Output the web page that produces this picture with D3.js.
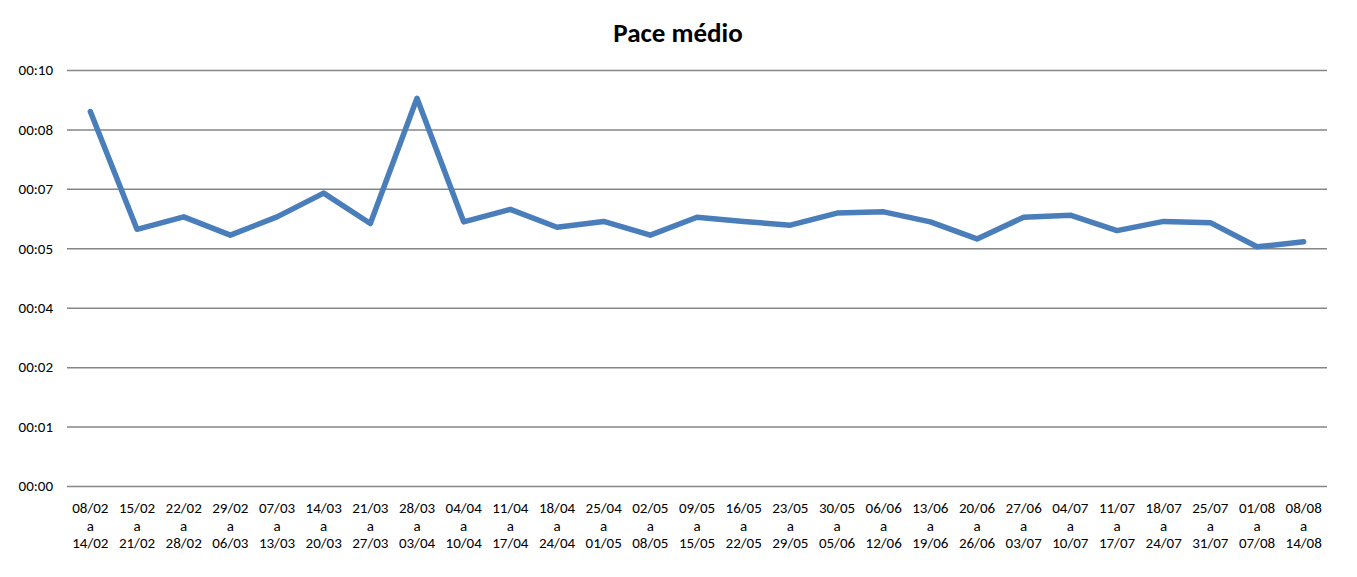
<!DOCTYPE html>
<html><head><meta charset="utf-8">
<script src="https://cdn.jsdelivr.net/npm/d3@7"></script>
<style>body{margin:0;background:#fff}svg{display:block}</style>
</head><body>
<svg id="c" width="1357" height="577"></svg>
<script>
const startDates = ["08/02","15/02","22/02","29/02","07/03","14/03","21/03","28/03","04/04","11/04","18/04","25/04","02/05","09/05","16/05","23/05","30/05","06/06","13/06","20/06","27/06","04/07","11/07","18/07","25/07","01/08","08/08"];
const endDates = ["14/02","21/02","28/02","06/03","13/03","20/03","27/03","03/04","10/04","17/04","24/04","01/05","08/05","15/05","22/05","29/05","05/06","12/06","19/06","26/06","03/07","10/07","17/07","24/07","31/07","07/08","14/08"];
const paceMinutes = [9.00,6.17,6.47,6.03,6.47,7.04,6.31,9.32,6.35,6.65,6.22,6.36,6.03,6.46,6.36,6.27,6.56,6.59,6.35,5.94,6.46,6.51,6.14,6.36,6.33,5.75,5.87];
const tickLabels = ["00:00","00:01","00:02","00:04","00:05","00:07","00:08","00:10"];
const yMax = 10;

const svg = d3.select("#c");
const font = "Carlito, 'Open Sans', 'Liberation Sans', sans-serif";
const L = 67, R = 1327, T = 70, B = 486;

const x = d3.scaleBand().domain(startDates).range([L, R]);
const y = d3.scaleLinear().domain([0, yMax]).range([B, T]);
const tickVals = tickLabels.map((_, i) => i * yMax / (tickLabels.length - 1));

svg.append("text").attr("x", 678).attr("y", 42).attr("text-anchor", "middle")
  .attr("font-family", font).attr("font-weight", "bold").attr("font-size", 27).attr("fill", "#000")
  .text("Pace médio");

const yAxis = d3.axisLeft(y).tickValues(tickVals).tickSize(-(R - L)).tickFormat((d, i) => tickLabels[i]);
const gy = svg.append("g").attr("transform", `translate(${L},0)`).call(yAxis);
gy.select(".domain").remove();
gy.selectAll(".tick line").attr("stroke", "#868686").attr("stroke-width", 1.5);
gy.selectAll(".tick text").attr("x", -14).attr("font-family", font).attr("font-size", 15).attr("fill", "#000");

const xAxis = d3.axisBottom(x).tickSize(0).tickFormat(() => "");
const gx = svg.append("g").attr("transform", `translate(0,${B})`).call(xAxis);
gx.select(".domain").remove();
gx.selectAll(".tick").each(function(d, i) {
  const t = d3.select(this).append("text").attr("text-anchor", "middle")
    .attr("font-family", font).attr("font-size", 15).attr("fill", "#000");
  t.append("tspan").attr("x", 0).attr("y", 27).text(startDates[i]);
  t.append("tspan").attr("x", 0).attr("y", 44.5).text("a");
  t.append("tspan").attr("x", 0).attr("y", 62).text(endDates[i]);
});

const line = d3.line().x((d, i) => x(startDates[i]) + x.bandwidth() / 2).y(d => y(d));
svg.append("path").datum(paceMinutes).attr("d", line)
  .attr("fill", "none").attr("stroke", "#4A7EBB").attr("stroke-width", 5.5)
  .attr("stroke-linejoin", "round").attr("stroke-linecap", "round");
</script>
</body></html>
